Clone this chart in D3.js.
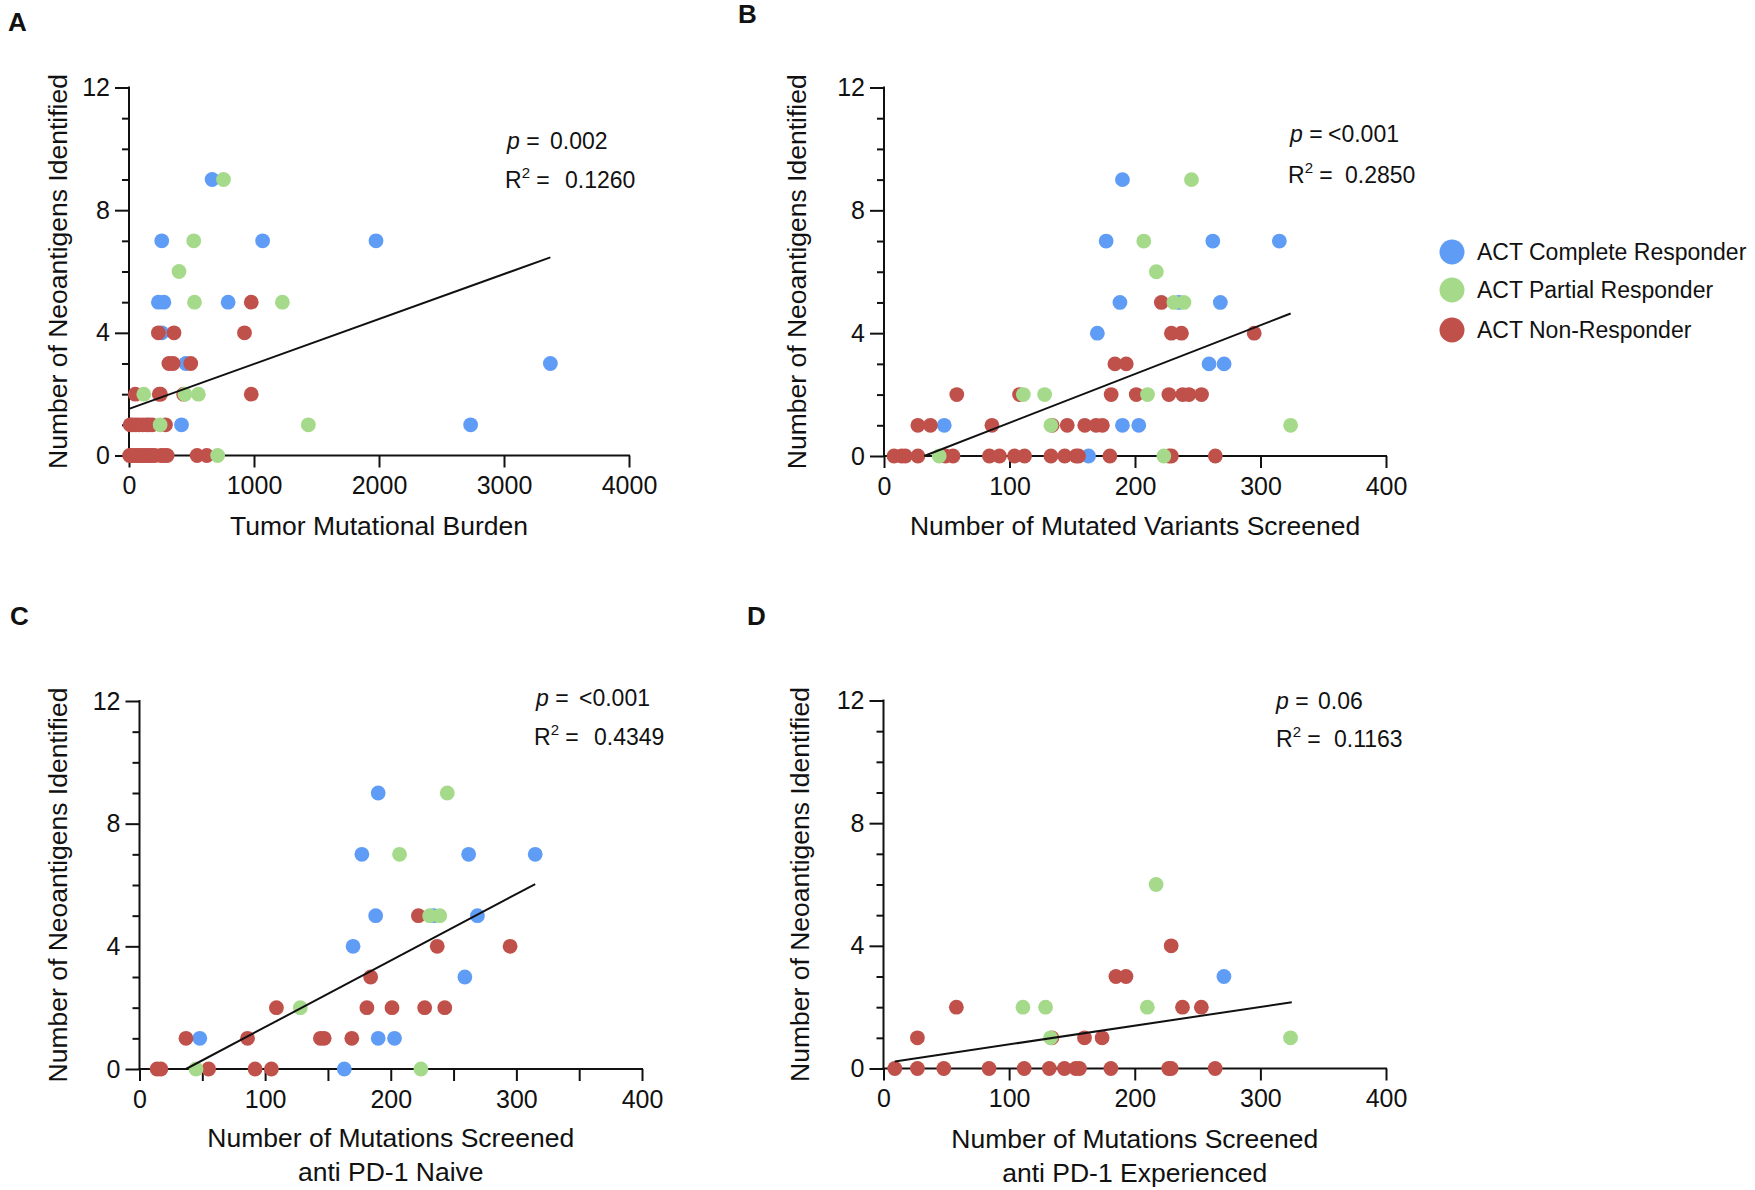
<!DOCTYPE html>
<html>
<head>
<meta charset="utf-8">
<script src="https://cdn.jsdelivr.net/npm/d3@7"></script>
<style>
  html, body { margin: 0; padding: 0; background: #fff; }
  svg { display: block; }
  text { font-family: "Liberation Sans", Arial, Helvetica, sans-serif; fill: #111; }
</style>
</head>
<body>
<svg id="chart" width="1755" height="1190"></svg>
<script>
// ---------------- DATA ----------------
const seriesNames = ["ACT Complete Responder", "ACT Partial Responder", "ACT Non-Responder"];
const seriesColors = ["#5f9cf6", "#a6da8b", "#c0504a"];

// Panel A: Tumor Mutational Burden vs Number of Neoantigens Identified
const A_complete = [[665,9],[262,7],[1069,7],[1976,7],[235,5],[279,5],[793,5],[262,4],[454,3],[3371,3],[420,1],[2733,1]];
const A_partial  = [[756,9],[518,7],[400,6],[524,5],[1227,5],[118,2],[447,2],[555,2],[249,1],[1435,1],[709,0]];
const A_non      = [[978,5],[235,4],[360,4],[924,4],[319,3],[353,3],[494,3],[50,2],[242,2],[252,2],[437,2],[978,2],
                    [10,1],[30,1],[55,1],[80,1],[110,1],[140,1],[160,1],[185,1],[292,1],
                    [5,0],[20,0],[40,0],[60,0],[80,0],[100,0],[120,0],[145,0],[165,0],[185,0],[205,0],[255,0],[280,0],[305,0],[545,0],[622,0]];
const A_fit = [[0,1.52],[3371,6.46]];
const A_stats = ["0.002", "0.1260"];

// Panel B: Number of Mutated Variants Screened
const B_complete = [[190,9],[177,7],[262,7],[315,7],[188,5],[235,5],[268,5],[170,4],[259,3],[271,3],[48,1],[190,1],[203,1],[163,0]];
const B_partial  = [[245,9],[207,7],[217,6],[231,5],[239,5],[111,2],[128,2],[210,2],[133,1],[324,1],[44,0],[223,0]];
const B_non      = [[221,5],[229,4],[237,4],[295,4],[184,3],[193,3],[58,2],[108,2],[181,2],[201,2],[227,2],[238,2],[243,2],[253,2],
                    [27,1],[37,1],[86,1],[134,1],[146,1],[160,1],[169,1],[174,1],
                    [8,0],[14,0],[17,0],[27,0],[49,0],[55,0],[84,0],[92,0],[104,0],[112,0],[133,0],[144,0],[153,0],[155,0],[180,0],[227,0],[229,0],[264,0]];
const B_fit = [[32,0],[324,4.64]];
const B_stats = ["<0.001", "0.2850"];

// Panel C: Number of Mutations Screened, anti PD-1 Naive
const C_complete = [[190,9],[177,7],[262,7],[315,7],[188,5],[234,5],[269,5],[170,4],[259,3],[48,1],[190,1],[203,1],[163,0]];
const C_partial  = [[245,9],[207,7],[231,5],[239,5],[128,2],[45,0],[224,0]];
const C_non      = [[222,5],[237,4],[295,4],[184,3],[109,2],[181,2],[201,2],[227,2],[243,2],
                    [37,1],[86,1],[144,1],[147,1],[169,1],[14,0],[17,0],[55,0],[92,0],[105,0]];
const C_fit = [[37,0],[315,6.03]];
const C_stats = ["<0.001", "0.4349"];

// Panel D: Number of Mutations Screened, anti PD-1 Experienced
const D_complete = [[271,3]];
const D_partial  = [[217,6],[111,2],[129,2],[210,2],[133,1],[324,1]];
const D_non      = [[229,4],[185,3],[193,3],[58,2],[238,2],[253,2],[27,1],[134,1],[160,1],[174,1],
                    [9,0],[27,0],[48,0],[84,0],[112,0],[132,0],[144,0],[153,0],[156,0],[181,0],[227,0],[229,0],[264,0]];
const D_fit = [[9,0.23],[325,2.16]];
const D_stats = ["0.06", "0.1163"];

const yTicksMajor = [0, 4, 8, 12];
const yTicksMinor = [1,2,3,5,6,7,9,10,11];
const xTicksTMB = [0, 1000, 2000, 3000, 4000];
const xTicksCount = [0, 100, 200, 300, 400];
const xTicksCountFine = [0, 50, 100, 150, 200, 250, 300, 350, 400];
const xTickLabelsCount = [0, 100, 200, 300, 400];

// ---------------- DRAW ----------------
const svg = d3.select("#chart");

const panels = [
  { letter: "A", lx: 8, ly: 31, left: 129, right: 629, top: 87.5, bottom: 455.5, xmax: 4000,
    xticks: xTicksTMB, xlabels: xTicksTMB, title: ["Tumor Mutational Burden"], titleY: 535, ytitleX: 58,
    data: [A_complete, A_partial, A_non], fit: A_fit, stats: A_stats,
    st: { px: 507, py: 149, pv: 550, rx: 505, ry: 188, rv: 565 } },
  { letter: "B", lx: 738, ly: 23, left: 884, right: 1386, top: 87.5, bottom: 456, xmax: 400,
    xticks: xTicksCount, xlabels: xTickLabelsCount, title: ["Number of Mutated Variants Screened"], titleY: 535, ytitleX: 797,
    data: [B_complete, B_partial, B_non], fit: B_fit, stats: B_stats,
    st: { px: 1290, py: 142, pv: 1328, rx: 1288, ry: 183, rv: 1345 } },
  { letter: "C", lx: 10, ly: 625, left: 139.5, right: 642, top: 701, bottom: 1069, xmax: 400,
    xticks: xTicksCountFine, xlabels: xTickLabelsCount, title: ["Number of Mutations Screened", "anti PD-1 Naive"], titleY: 1147, ytitleX: 58,
    data: [C_complete, C_partial, C_non], fit: C_fit, stats: C_stats,
    st: { px: 536, py: 706, pv: 579, rx: 534, ry: 745, rv: 594 } },
  { letter: "D", lx: 747, ly: 625, left: 883.5, right: 1386, top: 700.5, bottom: 1068.5, xmax: 400,
    xticks: xTicksCount, xlabels: xTickLabelsCount, title: ["Number of Mutations Screened", "anti PD-1 Experienced"], titleY: 1148, ytitleX: 800,
    data: [D_complete, D_partial, D_non], fit: D_fit, stats: D_stats,
    st: { px: 1276, py: 709, pv: 1318, rx: 1276, ry: 747, rv: 1334 } }
];

const drawOrder = [0, 2, 1]; // complete, non-responder, partial on top

panels.forEach(p => {
  const x = d3.scaleLinear().domain([0, p.xmax]).range([p.left, p.right]);
  const y = d3.scaleLinear().domain([0, 12]).range([p.bottom, p.top]);
  const g = svg.append("g");

  // panel letter
  svg.append("text").attr("x", p.lx).attr("y", p.ly)
    .style("font-size", "26px").style("font-weight", "bold").text(p.letter);

  // y axis major
  const yAxis = d3.axisLeft(y).tickValues(yTicksMajor).tickSize(14).tickPadding(5).tickFormat(d3.format("d"));
  const ya = g.append("g").attr("transform", `translate(${p.left},0)`).call(yAxis);
  ya.select(".domain").remove();
  ya.selectAll("line").attr("stroke", "#111").attr("stroke-width", 2);
  ya.selectAll("text").style("font-size", "25px").attr("fill", "#111");
  // y minor
  const yMinor = d3.axisLeft(y).tickValues(yTicksMinor).tickSize(7).tickFormat("");
  const ym = g.append("g").attr("transform", `translate(${p.left},0)`).call(yMinor);
  ym.select(".domain").remove();
  ym.selectAll("line").attr("stroke", "#111").attr("stroke-width", 2);

  // x axis
  const xAxis = d3.axisBottom(x).tickValues(p.xticks).tickSize(12).tickPadding(9)
    .tickFormat(d => p.xlabels.includes(d) ? d3.format("d")(d) : "");
  const xa = g.append("g").attr("transform", `translate(0,${p.bottom})`).call(xAxis);
  xa.select(".domain").remove();
  xa.selectAll("line").attr("stroke", "#111").attr("stroke-width", 2);
  xa.selectAll("text").style("font-size", "25px").attr("fill", "#111");

  // axis lines
  g.append("line").attr("x1", p.left).attr("x2", p.left).attr("y1", y(12) - 1).attr("y2", y(0) + 1)
    .attr("stroke", "#111").attr("stroke-width", 2);
  g.append("line").attr("x1", p.left - 1).attr("x2", x(p.xmax) + 1).attr("y1", y(0)).attr("y2", y(0))
    .attr("stroke", "#111").attr("stroke-width", 2);

  // points
  drawOrder.forEach(si => {
    g.append("g").selectAll("circle").data(p.data[si]).join("circle")
      .attr("cx", d => x(d[0])).attr("cy", d => y(d[1])).attr("r", 7.4)
      .attr("fill", seriesColors[si]);
  });

  // regression line
  g.append("path").datum(p.fit)
    .attr("d", d3.line().x(d => x(d[0])).y(d => y(d[1])))
    .attr("fill", "none").attr("stroke", "#111").attr("stroke-width", 2);

  // axis titles
  p.title.forEach((t, i) => {
    svg.append("text").attr("x", (p.left + p.right) / 2).attr("y", p.titleY + i * 34)
      .attr("text-anchor", "middle").style("font-size", "26.5px").text(t);
  });
  svg.append("text")
    .attr("transform", `translate(${p.ytitleX},${(p.top + p.bottom) / 2}) rotate(-90)`)
    .attr("text-anchor", "middle").attr("dy", "0.35em")
    .style("font-size", "26.5px").text("Number of Neoantigens Identified");

  // stats
  const s = p.st;
  const pt = svg.append("text").attr("x", s.px).attr("y", s.py).style("font-size", "23px");
  pt.append("tspan").style("font-style", "italic").text("p");
  pt.append("tspan").text(" =");
  svg.append("text").attr("x", s.pv).attr("y", s.py).style("font-size", "23px").text(p.stats[0]);
  const rt = svg.append("text").attr("x", s.rx).attr("y", s.ry).style("font-size", "23px");
  rt.append("tspan").text("R");
  rt.append("tspan").attr("dy", -10).style("font-size", "15px").text("2");
  rt.append("tspan").attr("dy", 10).text(" =");
  svg.append("text").attr("x", s.rv).attr("y", s.ry).style("font-size", "23px").text(p.stats[1]);
});

// legend
const legendY = [252, 290, 330];
const lg = svg.append("g");
seriesNames.forEach((n, i) => {
  lg.append("circle").attr("cx", 1452).attr("cy", legendY[i]).attr("r", 12.5).attr("fill", seriesColors[i]);
  lg.append("text").attr("x", 1477).attr("y", legendY[i] + 8).style("font-size", "23px").text(n);
});
</script>
</body>
</html>
